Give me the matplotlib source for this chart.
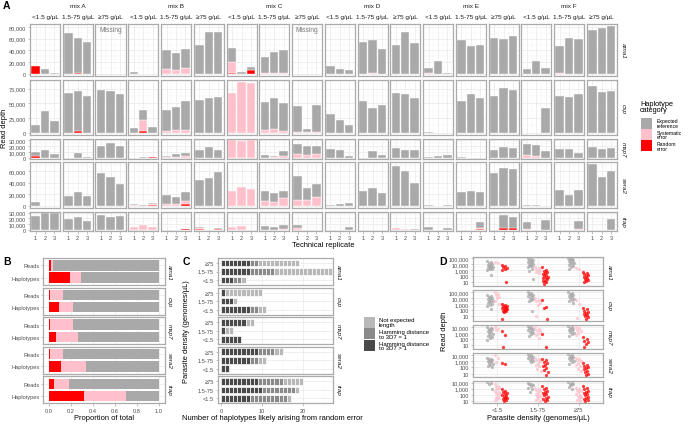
import numpy as np
import matplotlib
matplotlib.use('Agg')
import matplotlib.pyplot as plt
from matplotlib.patches import Rectangle
from matplotlib.ticker import FixedLocator, NullFormatter

plt.rcParams['font.family'] = ['Liberation Sans', 'DejaVu Sans']

# ---------------- data ----------------
GENES = ['ama1', 'csp', 'msp7', 'sera2', 'trap']
MIXES = ['mix A', 'mix B', 'mix C', 'mix D', 'mix E', 'mix F']
DENSITIES = ['<1.5 g/µL', '1.5-75 g/µL', '≥75 g/µL']
REPLICATES = [1, 2, 3]
Z = [0, 0, 0]

# Panel A: read depth (thousands) per panel (mix x density), per replicate
A_AMA1_GRAY = [[0, 8.2, 2.3], [70, 59.5, 54], None,
               [3.5, 0.5, 0.5], [32, 28, 32], [50, 71, 72],
               [25, 3, 4.5], [27, 35.5, 38.5], None,
               [12.8, 8, 6.4], [55, 57, 42], [49, 71, 53],
               [8.5, 22, 0.8], [57, 47, 49], [61, 60, 65],
               [8, 21.6, 10.5], [46, 61, 59], [75, 78, 81]]
A_AMA1_PINK = [Z, Z, None, Z, [9, 7, 10], Z, [18.5, 0, 0], [1.5, 1.5, 1.5], None,
               Z, [0, 1, 0], Z, [1.5, 0, 0], Z, Z, Z, [1, 0, 0], Z]
A_AMA1_RED = [[13.4, 0, 0], [0, 1.5, 0], None, Z, Z, Z, [1.5, 0, 6.5], Z, None,
              Z, Z, Z, Z, Z, Z, Z, Z, Z]

A_CSP_GRAY = [[13.2, 36.7, 20.8], [67.8, 69, 62.5], [73.6, 71.3, 66.6],
              [8.5, 17.6, 10.3], [36.6, 39, 49], [56, 60, 61],
              [0, 0, 0], [48, 53.6, 47], [44, 6, 45],
              [32, 21, 13], [53.7, 43, 47.8], [68, 66, 60],
              [0.5, 0.3, 0], [54, 66, 60], [62, 76, 73],
              [0, 0, 42.5], [63, 61, 65.5], [79.5, 70, 72]]
A_CSP_PINK = [Z, Z, Z, [0, 19, 0], [3, 5, 5], Z, [68, 86, 84], [4, 6, 3], [1.5, 1, 1.7],
              Z, Z, Z, Z, Z, Z, Z, Z, Z]
A_CSP_RED = [Z, [0, 3, 0], Z, [0, 3, 0], Z, Z, Z, Z, Z, Z, Z, Z, Z, Z, Z, Z, Z, Z]

A_MSP7_GRAY = [[7.1, 14, 6.8], [0, 8.5, 1.5], [20, 25, 20],
               [0, 1.7, 0.5], [2.4, 5.3, 6], [14, 18, 13.5],
               [0, 0, 0], [4, 1, 9.4], [16.7, 15, 14],
               [15, 14, 2.8], [0, 11, 4.5], [17, 14, 13],
               [1.7, 2.8, 4.5], [1.5, 0.5, 0], [13, 18.6, 17],
               [19.5, 18.5, 11], [15.8, 15, 8], [18, 14.7, 17]]
A_MSP7_PINK = [Z, Z, Z, Z, [1, 2, 2.5], Z, [31, 28, 30], [0.5, 1.8, 3], [7, 5, 6],
               Z, Z, Z, Z, Z, Z, [4.5, 3, 0], Z, Z]
A_MSP7_RED = [[2.5, 0, 0], Z, Z, [0, 0, 1.5], Z, Z, Z, Z, Z, Z, Z, Z, Z, Z, Z, Z, Z, Z]

A_SERA2_GRAY = [[7, 0.5, 0.8], [16.5, 23.5, 16.5], [56.5, 50, 37],
                [1.5, 1.8, 2], [15.4, 11.3, 16], [44, 47.6, 58],
                [0, 0, 0], [16.5, 15.3, 13], [40, 20.4, 22.3],
                [1.8, 3, 5.3], [26.5, 30, 22.4], [67.6, 59, 40],
                [1.5, 0.3, 1], [23.5, 26.5, 23.5], [56, 65, 63.5],
                [1.8, 1.8, 0.6], [27.6, 18, 27.6], [71, 49, 59]]
A_SERA2_PINK = [Z, Z, Z, [2, 0, 2], [4, 4, 5], Z, [25.3, 32.4, 29.4], [8.8, 6.5, 13.5],
                [10.6, 10.6, 14.7], Z, Z, Z, Z, Z, Z, Z, Z, Z]
A_SERA2_RED = [Z, Z, Z, [0, 0, 2], [0, 0, 3], Z, Z, Z, Z, Z, Z, Z, Z, Z, Z, Z, Z, Z]

A_TRAP_GRAY = [[24.3, 30, 29], [19.7, 22, 16], [26.6, 22, 24.3],
               [0, 0, 0], [0, 0.3, 0], [1.5, 0, 1.5],
               [0, 0, 0], [7.5, 4.6, 6.7], [5.7, 0, 0],
               [0, 1, 5.8], [0, 1, 0.5], [0, 0, 0.5],
               [5.8, 0, 3.5], [0, 1, 11.5], [0, 22.6, 19],
               [11.3, 0, 17.3], [0, 0.5, 13.5], [0, 0.5, 18.7]]
A_TRAP_PINK = [Z, Z, Z, [4.6, 9.2, 5.8], Z, [2, 0, 1], [4.6, 7, 1], [0, 0, 2], [3, 0, 0],
               Z, Z, [3.5, 2, 1], Z, [0, 0, 1], Z, [2, 0, 0], [0.5, 0, 2.5], [1, 0, 1]]
A_TRAP_RED = [Z, Z, Z, Z, [0, 0, 1.7], [1.5, 0, 1.5], Z, Z, Z,
              Z, Z, Z, Z, [0, 0, 2], [0, 4, 4], Z, Z, Z]

A_YTICKS = {'ama1': [0, 20000, 40000, 60000, 80000], 'csp': [0, 25000, 50000, 75000],
            'msp7': [0, 10000, 20000, 30000], 'sera2': [0, 20000, 40000, 60000],
            'trap': [0, 10000, 20000, 30000]}

# Panel B: proportions (random error, systematic error) ; rest = expected
B_LABELS = ['Reads', 'Haplotypes']
B_READS_RED = [0.015, 0.005, 0.01, 0.005, 0.05]
B_READS_PINK = [0.025, 0.12, 0.21, 0.12, 0.13]
B_HAP_RED = [0.19, 0.09, 0.06, 0.105, 0.32]
B_HAP_PINK = [0.10, 0.13, 0.20, 0.235, 0.38]

# Panel C: counts of haplotypes per category, order [>=75, 1.5-75, <1.5]
C_DENS = ['≥75', '1.5-75', '<1.5']
C_DARK = {'ama1': [7, 7, 3], 'csp': [1, 3, 7], 'msp7': [6, 1, 5], 'sera2': [9, 7, 2], 'trap': [9, 10, 7]}
C_MED = {'ama1': [2, 6, 2], 'csp': [0, 0, 2], 'msp7': [0, 0, 0], 'sera2': [4, 2, 0], 'trap': [6, 8, 9]}
C_LIGHT = {'ama1': [10, 14, 1], 'csp': [9, 1, 2], 'msp7': [2, 2, 0], 'sera2': [2, 2, 0], 'trap': [5, 1, 1]}

# Panel D: read depth per haplotype; lists for densities [<1.5, 1.5-75, >=75]
D_DENS = ['<1.5', '1.5-75', '≥75']
D_AMA1 = {
    'gray': [[30000, 22000, 16000, 12000, 9000, 7000, 5500, 4500, 3500, 2800, 2200, 1800, 1500, 1200, 200],
             [120000, 80000, 60000, 45000, 35000, 28000, 22000, 17000, 13000, 10000, 8000, 6000, 4500, 3000, 1500, 700, 30],
             [120000, 90000, 70000, 55000, 42000, 32000, 25000, 19000, 14000, 10000, 7500, 5000, 3000, 1600]],
    'pink': [[25000, 15000], [4000, 2500, 1800, 1200, 800, 500, 300], [2000, 1500]],
    'red': [[8000, 5000, 3500, 2500, 1500, 1200, 10],
            [3000, 1000, 700, 500, 350, 250, 180, 120, 90, 60, 45, 30, 20, 15, 10, 5],
            [600, 400, 250, 180, 120, 80, 50, 35, 25, 15, 10]]}
D_CSP = {
    'gray': [[25000, 18000, 13000, 10000, 8000, 6000, 4500, 3500, 2500, 2000, 1500, 1000, 700, 400, 150],
             [100000, 70000, 50000, 35000, 25000, 18000, 13000, 9000, 6000, 4000, 2500, 70],
             [100000, 70000, 50000, 35000, 25000, 18000, 13000, 9000, 6000, 4000, 2500, 1200]],
    'pink': [[100000, 50000, 30000, 15000, 8000, 3000, 1000], [8000, 5000, 3000, 1500, 700, 9], [4000, 1000, 5]],
    'red': [[1000, 700, 500, 400, 300, 250, 200, 150, 120, 100, 80, 60, 40, 3],
            [4000, 350, 250, 3],
            [200, 120, 80, 50, 35, 25, 15, 10, 6, 3]]}
D_MSP7 = {
    'gray': [[12000, 8000, 6000, 4500, 3500, 2500, 1800, 1300, 900, 600, 400, 250, 150, 80],
             [15000, 11000, 8000, 6000, 4500, 3300, 2500, 1800, 1200, 700, 300],
             [15000, 11000, 8000, 6000, 4500, 3300, 2500, 1800, 1200, 700, 400]],
    'pink': [[12000, 6000, 3000], [10000, 6000, 3500, 2000, 1000, 500, 150], [12000, 7000, 4000, 2000, 1000, 500]],
    'red': [[2000, 500, 6], [700, 5], [250, 120, 60, 30, 15, 5]]}
D_SERA2 = {
    'gray': [[4000, 3000, 2200, 1700, 1300, 1000, 800, 600, 450, 300, 200, 120],
             [15000, 11000, 8000, 6000, 4500, 3300, 2500, 1800, 1200, 700],
             [15000, 11000, 8000, 6000, 4500, 3300, 2500, 1800, 1200, 700, 400]],
    'pink': [[10000, 4000, 700], [4000, 2500, 1500, 1000, 600, 300, 150, 60, 30],
             [4000, 2500, 1500, 1000, 600, 300, 150, 60, 30]],
    'red': [[600, 450], [3000, 1500, 800, 500, 300, 150, 80, 40, 15, 6],
            [500, 300, 200, 120, 80, 50, 30, 15, 8, 5]]}
D_TRAP = {
    'gray': [[15000, 10000, 6000, 800], [10000, 7000, 5000, 3500, 2500, 1500, 800, 300],
             [15000, 10000, 7000, 5000, 3500, 2000, 1000]],
    'pink': [[5000, 3000, 2000, 1200, 800, 500, 300, 200, 120, 80, 50, 30, 20, 12],
             [1500, 1000, 600, 400, 250, 150, 100, 60, 40, 25, 15, 10],
             [1500, 1000, 600, 400, 250, 150, 100, 60, 40, 25, 15, 10]],
    'red': [[800, 500, 300, 200, 150, 100, 70, 50, 35, 25, 18, 12, 8],
            [3000, 1500, 800, 500, 300, 200, 120, 80, 50, 30, 20, 12, 8],
            [2500, 1500, 800, 500, 300, 200, 120, 80, 50, 30, 20, 12, 8]]}
D_YLIM = {'ama1': (0.4, 5.2), 'csp': (0.2, 5.3), 'msp7': (0.4, 4.4), 'sera2': (0.45, 4.4), 'trap': (0.7, 4.3)}

# ---------------- style ----------------
GRAY, PINK, RED = '#A9A9A9', '#FFC0CB', '#FF0000'
C_COLS = {'dark': '#4A4A4A', 'med': '#8A8A8A', 'light': '#B8B8B8'}
BORDER = '#ABABAB'
TICKCOL = '#4D4D4D'
TICK_FS = 4.1
STRIP_FS = 4.6
TITLE_FS = 5.4

W, H = 695, 427
fig = plt.figure(figsize=(W / 100, H / 100), dpi=100)


def add_ax(x0, y0, x1, y1):
    return fig.add_axes([x0 / W, 1 - y1 / H, (x1 - x0) / W, (y1 - y0) / H])


def style_ax(ax):
    ax.set_facecolor('white')
    for s in ax.spines.values():
        s.set_color(BORDER)
        s.set_linewidth(0.9)
    ax.tick_params(which='major', length=1.8, width=0.5, color=BORDER, labelsize=TICK_FS,
                   labelcolor=TICKCOL, pad=1.2)
    ax.tick_params(which='minor', length=0)
    ax.set_axisbelow(True)
    ax.grid(which='major', color='#E6E6E6', lw=0.45)
    ax.grid(which='minor', color='#F2F2F2', lw=0.3)


over = fig.add_axes([0, 0, 1, 1], zorder=10)
over.set_xlim(0, W)
over.set_ylim(H, 0)
over.axis('off')
over.patch.set_alpha(0)


def txt(x, y, s, **kw):
    kw.setdefault('ha', 'center')
    kw.setdefault('va', 'center')
    over.text(x, y, s, **kw)


# ---------------- Panel A ----------------
A_DATA = {'ama1': (A_AMA1_GRAY, A_AMA1_PINK, A_AMA1_RED),
          'csp': (A_CSP_GRAY, A_CSP_PINK, A_CSP_RED),
          'msp7': (A_MSP7_GRAY, A_MSP7_PINK, A_MSP7_RED),
          'sera2': (A_SERA2_GRAY, A_SERA2_PINK, A_SERA2_RED),
          'trap': (A_TRAP_GRAY, A_TRAP_PINK, A_TRAP_RED)}

row_max = {}
for g in GENES:
    gr, pk, rd = A_DATA[g]
    row_max[g] = max(max(np.add(np.add(a, b), c)) for a, b, c in zip(gr, pk, rd) if a is not None)

A_TOP, A_BOT, A_GAP = 25, 232, 3.5
tot = sum(1.1 * row_max[g] for g in GENES)
scale = (A_BOT - A_TOP - 4 * A_GAP) / tot
PX0, PITCH, PW = 30, 32.75, 30
y = A_TOP
for r, g in enumerate(GENES):
    h = 1.1 * row_max[g] * scale
    gr, pk, rd = A_DATA[g]
    m = row_max[g] * 1000
    for c in range(18):
        x0 = PX0 + c * PITCH
        ax = add_ax(x0, y, x0 + PW, y + h)
        style_ax(ax)
        ax.set_xlim(0.4, 3.6)
        ax.set_ylim(-0.05 * m, 1.05 * m)
        ax.set_xticks(REPLICATES)
        ax.xaxis.set_minor_locator(FixedLocator([1.5, 2.5]))
        yt = A_YTICKS[g]
        ax.set_yticks(yt)
        ax.yaxis.set_minor_locator(FixedLocator([(a + b) / 2 for a, b in zip(yt[:-1], yt[1:])] +
                                                [yt[-1] + (yt[1] - yt[0]) / 2]))
        if gr[c] is None:
            ax.text(2, 1.0 * m, 'Missing', ha='center', va='top', fontsize=4.8, color='#7A7A7A')
        else:
            rv = np.array(rd[c]) * 1000
            pv = np.array(pk[c]) * 1000
            gv = np.array(gr[c]) * 1000
            xs = np.array(REPLICATES)
            for vals, bottom, col in [(rv, 0 * rv, RED), (pv, rv, PINK), (gv, rv + pv, GRAY)]:
                mk = vals > 0
                if mk.any():
                    ax.bar(xs[mk], vals[mk], bottom=bottom[mk], width=0.9, color=col,
                           edgecolor='white', linewidth=0.3)
        if c == 0:
            ax.set_yticklabels([f'{v:,}' for v in yt])
        else:
            ax.tick_params(axis='y', which='both', length=0, labelleft=False)
        if r == len(GENES) - 1:
            ax.set_xticklabels([str(v) for v in REPLICATES])
        else:
            ax.tick_params(axis='x', which='both', length=0, labelbottom=False)
        if r == 0:
            txt(x0 + PW / 2, 17, DENSITIES[c % 3], fontsize=STRIP_FS, color='#1A1A1A')
    txt(PX0 + 17 * PITCH + PW + 6.5, y + h / 2, g, rotation=270, fontsize=STRIP_FS,
        style='italic', color='#1A1A1A')
    y += h + A_GAP

for i, mx in enumerate(MIXES):
    txt(PX0 + (3 * i + 1) * PITCH + PW / 2, 6, mx, fontsize=STRIP_FS, color='#1A1A1A')

txt(3, 6, 'A', fontsize=7.5, fontweight='bold', ha='left')
txt(4.2, 128, 'Read depth', rotation=90, fontsize=TITLE_FS)
txt(323, 246, 'Technical replicate', fontsize=TITLE_FS)

# legend A
txt(640, 107.5, 'Haplotype\ncategory', fontsize=5.3, ha='left', linespacing=1.0)
for i, (col, lab) in enumerate([(GRAY, 'Expected\nreference'), (PINK, 'Systematic\nerror'),
                                (RED, 'Random\nerror')]):
    yk = 118.5 + i * 11.3
    over.add_patch(Rectangle((641, yk), 11, 11.3, facecolor=col, edgecolor='none'))
    txt(657, yk + 5.6, lab, fontsize=3.7, ha='left', linespacing=0.95)

# ---------------- rows for B, C ----------------
BC_TOP, BC_H, BC_PITCH = 259, 27, 29.6
for r, g in enumerate(GENES):
    y0 = BC_TOP + r * BC_PITCH
    # ---- B ----
    ax = add_ax(43.5, y0, 164.5, y0 + BC_H)
    style_ax(ax)
    ax.set_xlim(-0.05, 1.05)
    ax.set_ylim(0.4, 2.6)
    ax.set_xticks([0, 0.2, 0.4, 0.6, 0.8, 1.0])
    ax.xaxis.set_minor_locator(FixedLocator([0.1, 0.3, 0.5, 0.7, 0.9]))
    ax.set_yticks([2, 1])
    ax.set_yticklabels(B_LABELS)
    reds = [B_READS_RED[r], B_HAP_RED[r]]
    pinks = [B_READS_PINK[r], B_HAP_PINK[r]]
    ys = np.array([2, 1])
    reds = np.array(reds)
    pinks = np.array(pinks)
    grays = 1 - reds - pinks
    ax.barh(ys, reds, height=0.85, color=RED)
    ax.barh(ys, pinks, left=reds, height=0.85, color=PINK)
    ax.barh(ys, grays, left=reds + pinks, height=0.85, color=GRAY)
    if r == len(GENES) - 1:
        ax.set_xticklabels(['0.0', '0.2', '0.4', '0.6', '0.8', '1.0'])
    else:
        ax.tick_params(axis='x', which='both', length=0, labelbottom=False)
    txt(169.5, y0 + BC_H / 2, g, rotation=270, fontsize=STRIP_FS, style='italic', color='#1A1A1A')

    # ---- C ----
    ax = add_ax(218, y0, 333, y0 + BC_H)
    style_ax(ax)
    ax.set_xlim(-0.7, 27.2)
    ax.set_ylim(0.4, 3.6)
    ax.set_xticks([0, 10, 20])
    ax.xaxis.set_minor_locator(FixedLocator([5, 15, 25]))
    ax.set_yticks([3, 2, 1])
    ax.set_yticklabels(C_DENS)
    for k, yy in enumerate([3, 2, 1]):
        start = 0
        for key, counts in [('dark', C_DARK), ('med', C_MED), ('light', C_LIGHT)]:
            n = counts[g][k]
            if n > 0:
                ax.barh(np.full(n, yy), np.ones(n), left=start + np.arange(n), height=0.8,
                        color=C_COLS[key], edgecolor='white', linewidth=0.5)
            start += n
    if r == len(GENES) - 1:
        ax.set_xticklabels(['0', '10', '20'])
    else:
        ax.tick_params(axis='x', which='both', length=0, labelbottom=False)
    txt(338.5, y0 + BC_H / 2, g, rotation=270, fontsize=STRIP_FS, style='italic', color='#1A1A1A')

txt(3, 262, 'B', fontsize=7.5, fontweight='bold', ha='left')
txt(104, 419, 'Proportion of total', fontsize=TITLE_FS)
txt(183, 262, 'C', fontsize=7.5, fontweight='bold', ha='left')
txt(187, 332, 'Parasite density (genomes/µL)', rotation=90, fontsize=TITLE_FS)
txt(272, 419, 'Number of haplotypes likely arising from random error', fontsize=TITLE_FS)

for i, (key, lab) in enumerate([('light', 'Not expected\nlength'), ('med', 'Hamming distance\nto 3D7 = 1'),
                                ('dark', 'Hamming distance\nto 3D7 > 1')]):
    yk = 317.5 + i * 11.8
    over.add_patch(Rectangle((364, yk), 11, 11, facecolor=C_COLS[key], edgecolor='none'))
    txt(379, yk + 5.5, lab, fontsize=4.3, ha='left', linespacing=0.95)

# ---------------- Panel D ----------------
D_DATA = {'ama1': D_AMA1, 'csp': D_CSP, 'msp7': D_MSP7, 'sera2': D_SERA2, 'trap': D_TRAP}
D_TOP, D_BOT, D_GAP = 258, 403.6, 4
dec_total = sum(D_YLIM[g][1] - D_YLIM[g][0] for g in GENES)
pxdec = (D_BOT - D_TOP - 4 * D_GAP) / dec_total
y = D_TOP
offsets = {'gray': -0.18, 'pink': 0.0, 'red': 0.18}
colors = {'gray': GRAY, 'pink': PINK, 'red': RED}
for r, g in enumerate(GENES):
    lo, hi = D_YLIM[g]
    h = (hi - lo) * pxdec
    ax = add_ax(473, y, 603, y + h)
    style_ax(ax)
    ax.set_yscale('log')
    ax.set_ylim(10 ** lo, 10 ** hi)
    ax.set_xlim(0.4, 3.6)
    ticks = [10 ** k for k in range(1, 6) if lo <= k <= hi]
    ax.yaxis.set_major_locator(FixedLocator(ticks))
    ax.set_yticklabels([f'{int(t):,}' for t in ticks])
    ax.yaxis.set_minor_locator(FixedLocator([10 ** (k + 0.5) for k in range(0, 6) if lo <= k + 0.5 <= hi]))
    ax.yaxis.set_minor_formatter(NullFormatter())
    ax.set_xticks([1, 2, 3])
    ax.xaxis.set_minor_locator(FixedLocator([]))
    data = D_DATA[g]
    for cat in ['gray', 'pink', 'red']:
        for k in range(3):
            vals = np.array(data[cat][k], dtype=float)
            n = len(vals)
            jit = ((np.arange(n) * 0.618034) % 1 - 0.5) * 0.14
            ax.scatter(k + 1 + offsets[cat] + jit, vals, s=5.5, color=colors[cat], alpha=0.75,
                       linewidths=0, zorder=3)
    if r == len(GENES) - 1:
        ax.set_xticklabels(D_DENS)
    else:
        ax.tick_params(axis='x', which='both', length=0, labelbottom=False)
    txt(609.5, y + h / 2, g, rotation=270, fontsize=STRIP_FS, style='italic', color='#1A1A1A')
    y += h + D_GAP

txt(439, 262, 'D', fontsize=7.5, fontweight='bold', ha='left')
txt(444, 331, 'Read depth', rotation=90, fontsize=TITLE_FS)
txt(538, 419, 'Parasite density (genomes/µL)', fontsize=TITLE_FS)

fig.savefig('out.png', dpi=100)
